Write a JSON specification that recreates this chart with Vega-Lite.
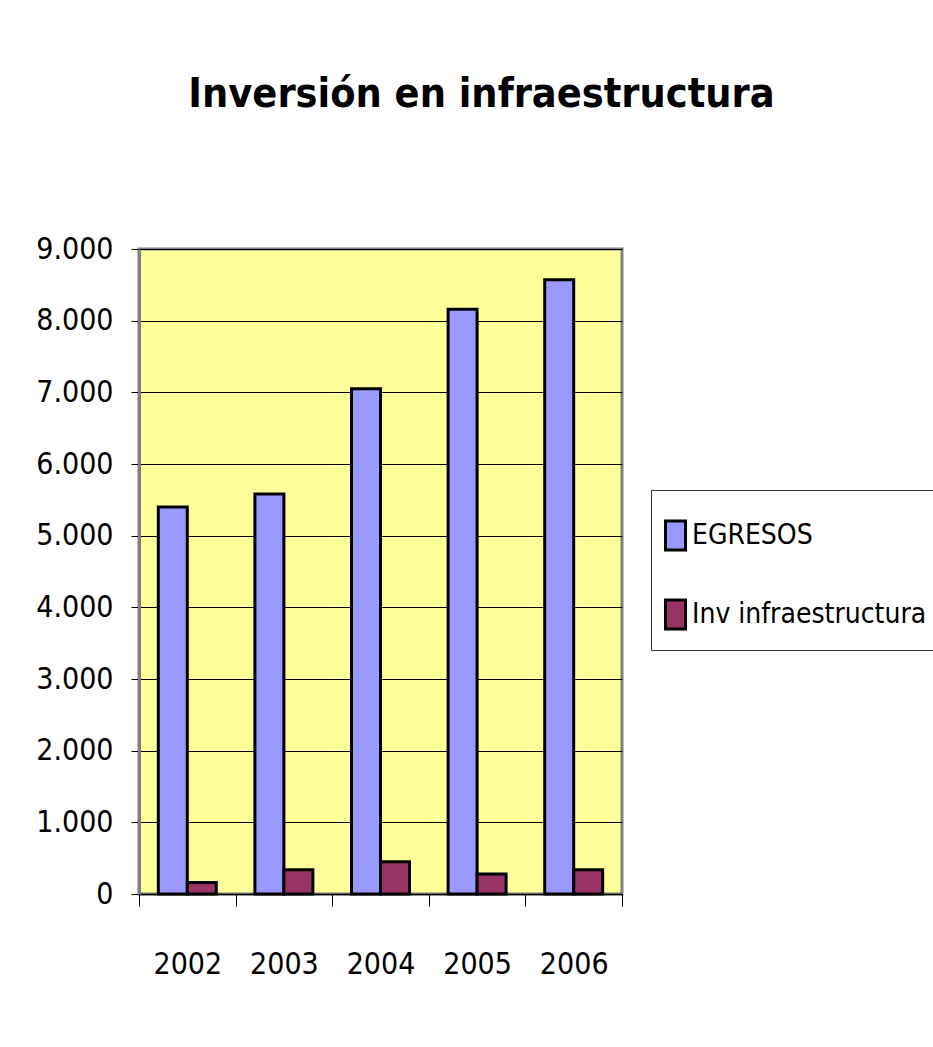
{
  "$schema": "https://vega.github.io/schema/vega-lite/v6.json",
  "autosize": {"type": "none"},
  "width": 483,
  "height": 645,
  "padding": {"left": 139, "top": 249, "right": 311, "bottom": 153},
  "background": "white",
  "title": {
    "text": "Inversión en infraestructura",
    "font": "DejaVu Sans Condensed, Roboto, sans-serif",
    "fontSize": 41,
    "fontWeight": "bold",
    "color": "black",
    "anchor": "middle",
    "baseline": "alphabetic",
    "dx": 101,
    "offset": 86
  },
  "data": {
    "values": [
      {"year": "2002", "serie": "EGRESOS", "value": 5400},
      {"year": "2003", "serie": "EGRESOS", "value": 5580},
      {"year": "2004", "serie": "EGRESOS", "value": 7050},
      {"year": "2005", "serie": "EGRESOS", "value": 8160},
      {"year": "2006", "serie": "EGRESOS", "value": 8570},
      {"year": "2002", "serie": "Inv infraestructura", "value": 160},
      {"year": "2003", "serie": "Inv infraestructura", "value": 340},
      {"year": "2004", "serie": "Inv infraestructura", "value": 450},
      {"year": "2005", "serie": "Inv infraestructura", "value": 280},
      {"year": "2006", "serie": "Inv infraestructura", "value": 340}
    ]
  },
  "mark": {"type": "bar", "stroke": "black", "strokeWidth": 3, "strokeJoin": "miter"},
  "encoding": {
    "x": {
      "field": "year",
      "type": "nominal",
      "title": null,
      "scale": {"paddingInner": 0, "paddingOuter": 0},
      "axis": {
        "labelAngle": 0,
        "tickBand": "extent",
        "tickSize": 12,
        "tickColor": "black",
        "domainColor": "black",
        "domainWidth": 1.5,
        "labelFont": "DejaVu Sans Condensed, Roboto, sans-serif",
        "labelFontSize": 30,
        "labelColor": "black",
        "labelBaseline": "alphabetic",
        "labelPadding": 67,
        "grid": false
      }
    },
    "xOffset": {
      "field": "serie",
      "type": "nominal",
      "scale": {"paddingInner": 0, "paddingOuter": 0.666}
    },
    "y": {
      "field": "value",
      "type": "quantitative",
      "title": null,
      "scale": {"domain": [0, 9000], "nice": false},
      "axis": {
        "values": [0, 1000, 2000, 3000, 4000, 5000, 6000, 7000, 8000, 9000],
        "labelExpr": "replace(format(datum.value, ','), ',', '.')",
        "tickSize": 8,
        "tickColor": "black",
        "domainColor": "#808080",
        "domainWidth": 3,
        "grid": true,
        "gridColor": "black",
        "gridWidth": 1,
        "gridOpacity": 1,
        "labelFont": "DejaVu Sans Condensed, Roboto, sans-serif",
        "labelFontSize": 30,
        "labelColor": "black",
        "labelPadding": 18
      }
    },
    "fill": {
      "field": "serie",
      "type": "nominal",
      "scale": {"domain": ["EGRESOS", "Inv infraestructura"], "range": ["#9999FF", "#993366"]},
      "legend": {
        "title": null,
        "orient": "none",
        "legendX": 512,
        "legendY": 241,
        "padding": 15,
        "strokeColor": "#333333",
        "fillColor": "white",
        "symbolType": "M-1,-0.5L-0.31,-0.5L-0.31,0.5L-1,0.5Z",
        "symbolSize": 3364,
        "symbolStrokeColor": "black",
        "symbolStrokeWidth": 3,
        "symbolOpacity": 1,
        "symbolOffset": -2,
        "rowPadding": 28,
        "labelOffset": -33,
        "labelFont": "DejaVu Sans Condensed, Roboto, sans-serif",
        "labelFontSize": 28,
        "labelColor": "black",
        "labelLimit": 400
      }
    }
  },
  "config": {
    "view": {"fill": "#FFFF99", "stroke": "#808080", "strokeWidth": 3}
  }
}
